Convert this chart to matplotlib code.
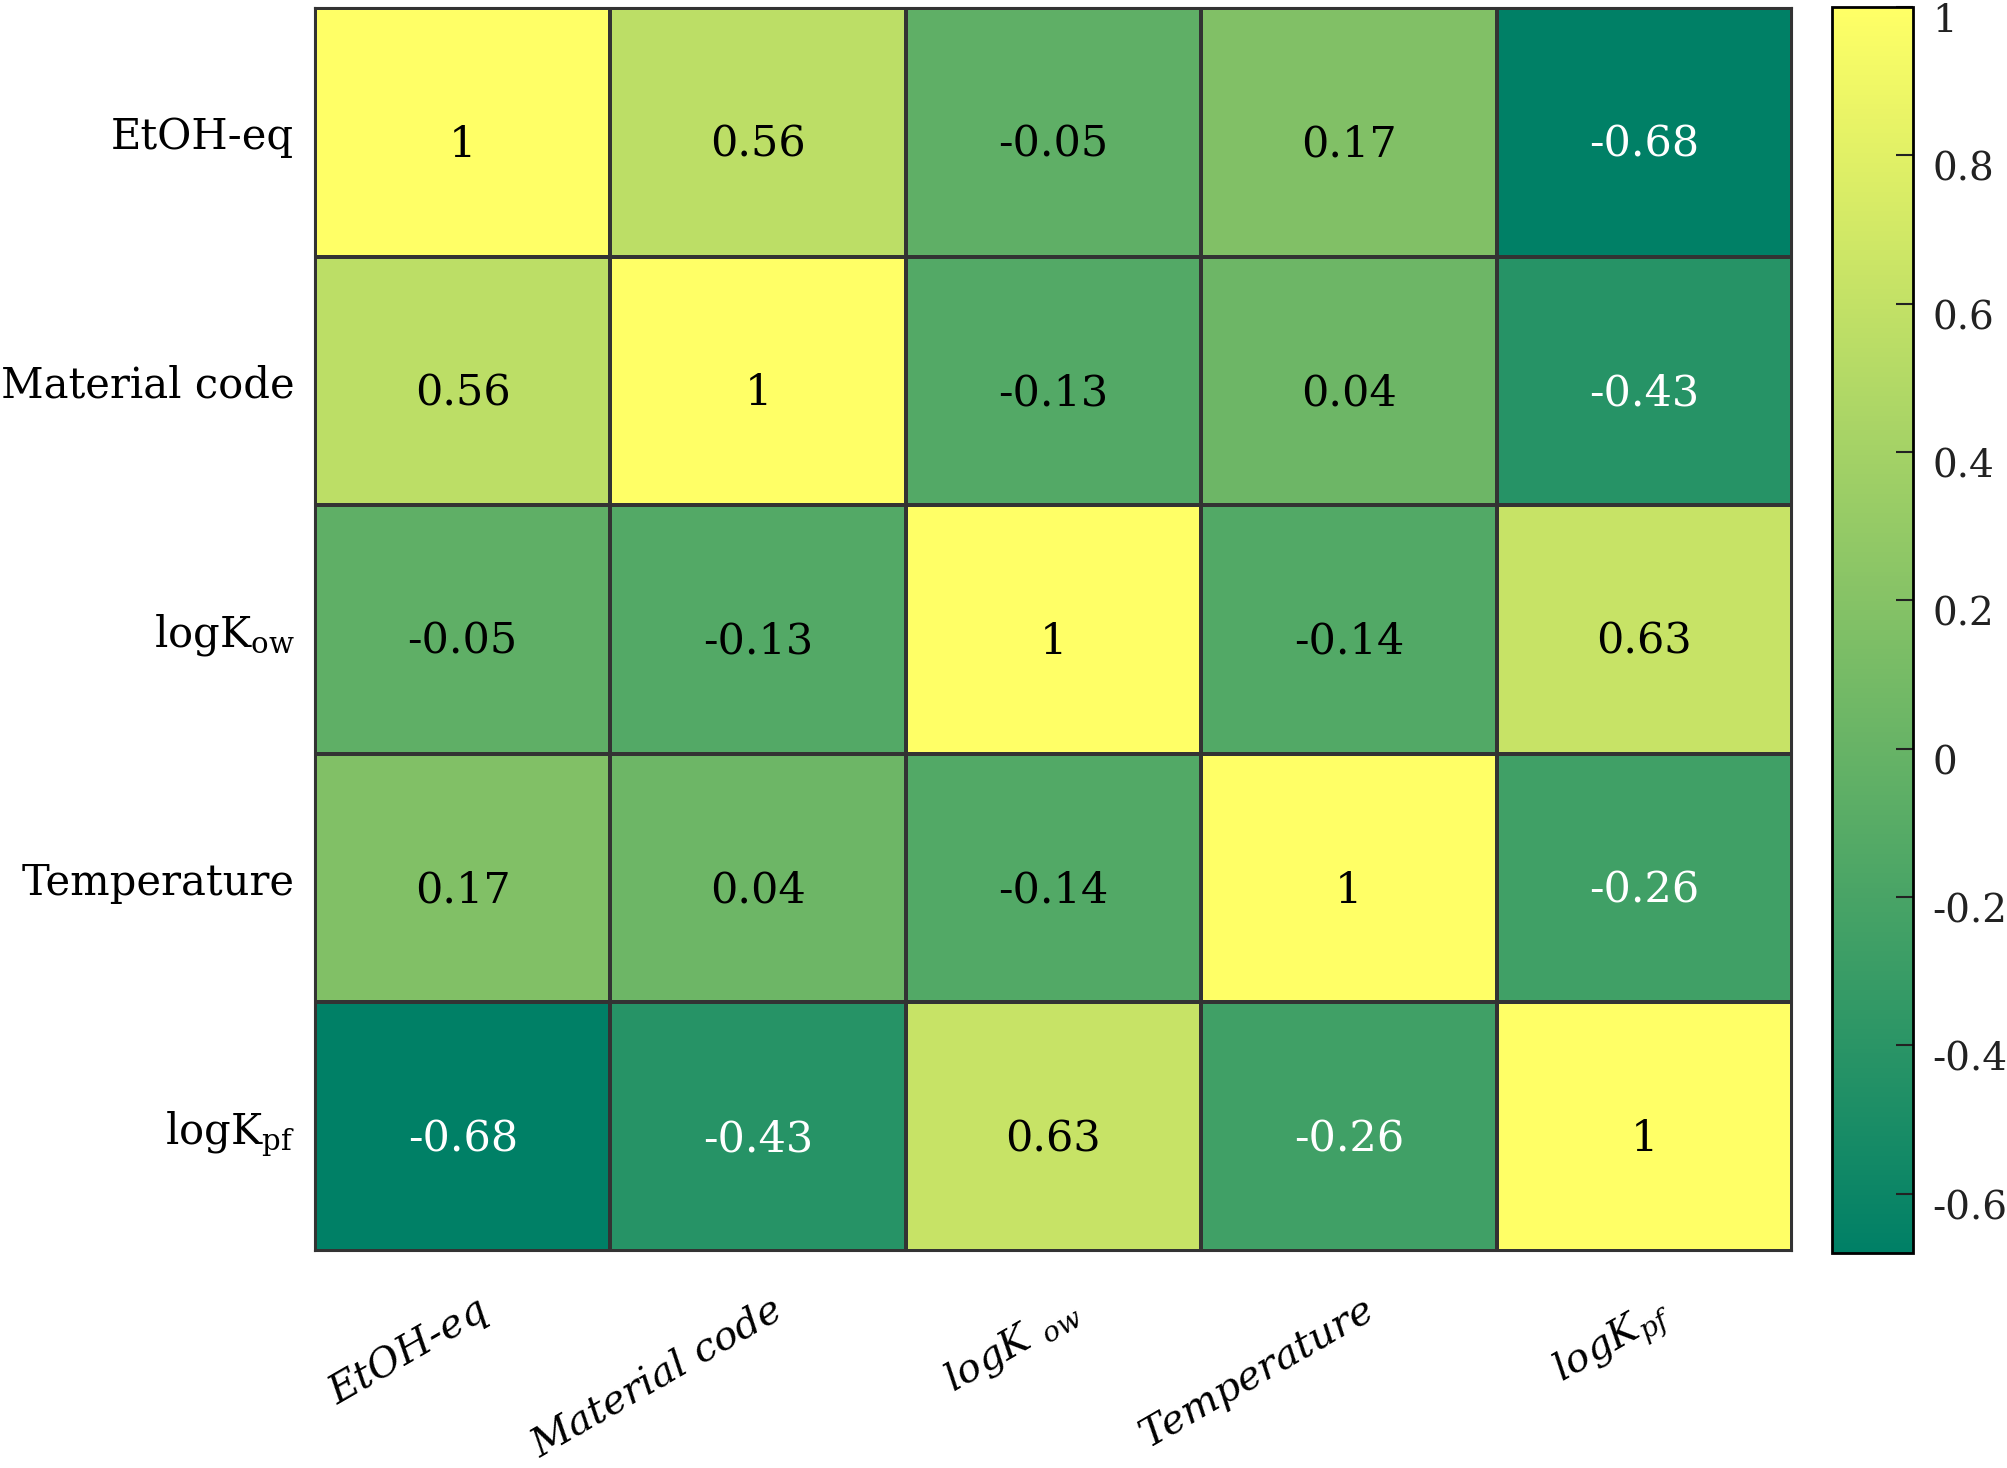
import matplotlib
matplotlib.use("Agg")
import matplotlib.pyplot as plt
import matplotlib.transforms as mtransforms
import numpy as np

plt.rcParams['font.family'] = 'DejaVu Serif'
plt.rcParams['mathtext.fontset'] = 'dejavuserif'

# variable names (rows top to bottom, columns left to right)
ylabels = ['EtOH-eq', 'Material code', r'logK$_\mathregular{ow}$', 'Temperature', r'logK$_\mathregular{pf}$']
xlabels = ['EtOH-eq', 'Material code', r'logK $_\mathregular{ow}$', 'Temperature', r'logK$_\mathregular{pf}$']

row_etoh = [1, 0.56, -0.05, 0.17, -0.68]
row_material = [0.56, 1, -0.13, 0.04, -0.43]
row_kow = [-0.05, -0.13, 1, -0.14, 0.63]
row_temp = [0.17, 0.04, -0.14, 1, -0.26]
row_kpf = [-0.68, -0.43, 0.63, -0.26, 1]

cbar_ticks = [-0.6, -0.4, -0.2, 0, 0.2, 0.4, 0.6, 0.8, 1]
cbar_ticklabels = ['-0.6', '-0.4', '-0.2', '0', '0.2', '0.4', '0.6', '0.8', '1']

corr = np.array([row_etoh, row_material, row_kow, row_temp, row_kpf])
n = corr.shape[0]

fig = plt.figure(figsize=(20.08, 14.68), dpi=100)
ax = fig.add_axes([0.1569, 0.1478, 0.7355, 0.8467])
cax = fig.add_axes([0.9124, 0.1465, 0.0403, 0.8488])

mesh = ax.pcolormesh(corr, cmap='summer', vmin=-0.68, vmax=1,
                     edgecolors='#333333', linewidth=1.5)
ax.set_xlim(0, n)
ax.set_ylim(n, 0)

for i in range(n):
    for j in range(n):
        v = corr[i, j]
        txt = '%g' % v
        col = 'white' if v <= -0.2 else 'black'
        ax.text(j + 0.5, i + 0.55, txt, ha='center', va='center',
                fontsize=31, color=col)

ax.set_xticks(np.arange(n) + 0.5)
ax.set_yticks(np.arange(n) + 0.5)
ax.set_yticklabels(ylabels, fontsize=30)
ax.set_xticklabels(xlabels, fontsize=29, rotation=30, ha='right', va='top',
                   rotation_mode='anchor', fontstyle='italic')
ax.tick_params(axis='y', length=0, pad=15)
ax.tick_params(axis='x', length=0, pad=29)
for s in ax.spines.values():
    s.set_linewidth(1.5)
    s.set_color('#333333')

shift_x = mtransforms.ScaledTranslation(0.13, 0, fig.dpi_scale_trans)
for lab in ax.get_xticklabels():
    lab.set_transform(lab.get_transform() + shift_x)

cb = fig.colorbar(mesh, cax=cax, ticks=cbar_ticks)
cb.set_ticklabels(cbar_ticklabels)
cb.outline.set_linewidth(2)
cax.tick_params(direction='in', length=12, width=1.5, colors='#222222',
                labelsize=28, pad=14)
shift_y = mtransforms.ScaledTranslation(0, -0.11, fig.dpi_scale_trans)
for lab in cax.get_yticklabels():
    lab.set_transform(lab.get_transform() + shift_y)

fig.savefig('out.png', dpi=100)
